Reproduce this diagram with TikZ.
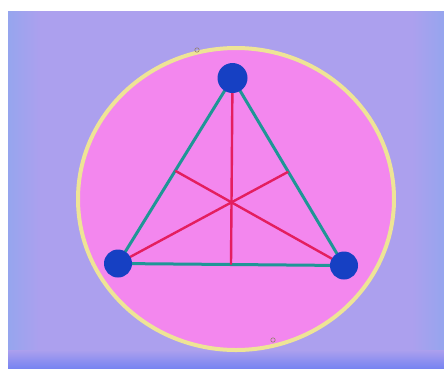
\documentclass[tikz,border=0pt]{standalone}
\usetikzlibrary{calc}
\definecolor{bg}{RGB}{172,160,238}
\definecolor{bgedge}{RGB}{150,165,238}
\definecolor{pinkfill}{RGB}{243,135,238}
\definecolor{rim}{RGB}{238,228,150}
\definecolor{tealc}{RGB}{30,150,150}
\definecolor{redc}{RGB}{228,30,95}
\definecolor{dotc}{RGB}{22,64,195}
\begin{document}
\begin{tikzpicture}[x=1pt,y=-1pt,
  side/.style={draw=tealc,line width=3pt},
  median/.style={draw=redc,line width=2.4pt},
  vdot/.style={circle,fill=dotc,minimum size=30pt,inner sep=0pt},
  speck/.style={draw=gray!70!brown,line width=0.6pt}]
\useasboundingbox (0,0) rectangle (444,368);
\fill[white] (0,0) rectangle (444,368);
\fill[bg] (8,11) rectangle (444,368);
\shade[left color=bgedge,right color=bg] (8,11) rectangle (40,368);
\shade[left color=bg,right color=bgedge] (412,11) rectangle (444,368);
\shade[top color=bg,bottom color=bgedge!80!blue] (8,350) rectangle (444,368);
% disc
\path[fill=pinkfill,draw=rim,line width=4pt] (236,199) ellipse [x radius=158,y radius=151];
\draw[speck] (197,50) circle (2.2);
\draw[speck] (273,340) circle (2.2);
% triangle
\coordinate (A) at (232.5,78);
\coordinate (B) at (118,263.5);
\coordinate (C) at (344,265.5);
\coordinate (mAB) at ($(A)!0.5!(B)$);
\coordinate (mAC) at ($(A)!0.5!(C)$);
\coordinate (mBC) at ($(B)!0.5!(C)$);
\draw[side] (A) -- (B) -- (C) -- cycle;
\draw[median] (A) -- (mBC);
\draw[median] (B) -- (mAC);
\draw[median] (C) -- (mAB);
\fill[redc] ($(A)!0.6667!(mBC)$) circle (2.2);
\node[vdot] (dA) at (A) {};
\node[vdot,minimum size=28pt] (dB) at (B) {};
\node[vdot,minimum size=28pt] (dC) at (C) {};
\end{tikzpicture}
\end{document}
